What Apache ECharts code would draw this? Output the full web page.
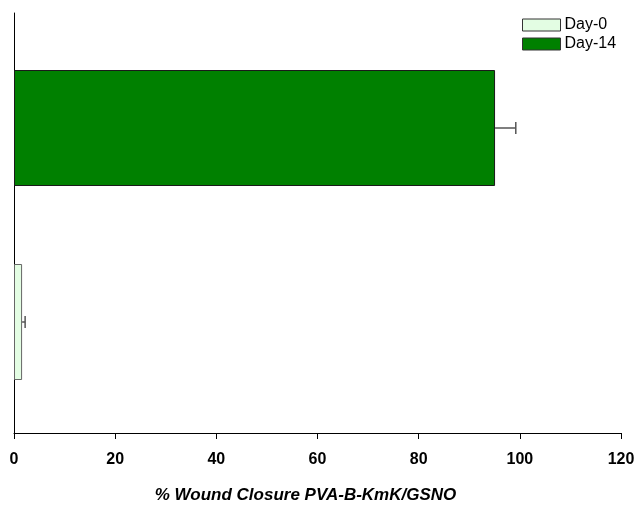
<!DOCTYPE html>
<html>
<head>
<meta charset="utf-8">
<script src="https://cdn.jsdelivr.net/npm/echarts@6/dist/echarts.min.js"></script>
<style>
  html, body { margin: 0; padding: 0; background: #fff; }
  #chart { width: 638px; height: 509px; }
</style>
</head>
<body>
<div id="chart"></div>
<script>
// data
const groups = ['Day-0', 'Day-14'];
const closure = [1.6, 95.1];
const closureErr = [0.6, 4.1];
const xTicks = [0, 20, 40, 60, 80, 100, 120];
const barColors = ['#e3fde3', '#008000'];
const barBorders = ['#666666', '#1a1a1a'];

const chart = echarts.init(document.getElementById('chart'));

const font = 'Arial, "Liberation Sans", sans-serif';

// one series per group so the legend shows both
const barSeries = groups.map((g, i) => ({
  name: g,
  type: 'bar',
  xAxisIndex: 1,
  yAxisIndex: 1,
  barWidth: 116,
  barGap: '-100%',
  data: groups.map((_, j) => (j === i ? closure[j] : null)),
  itemStyle: { color: barColors[i], borderColor: barBorders[i], borderWidth: 1 },
  silent: true
}));

const errSeries = {
  type: 'custom',
  xAxisIndex: 1,
  yAxisIndex: 1,
  data: groups.map((g, i) => [closure[i], i, closureErr[i]]),
  renderItem: function (params, api) {
    const v = api.value(0);
    const idx = api.value(1);
    const e = api.value(2);
    const p0 = api.coord([v, idx]);
    const p1 = api.coord([v + e, idx]);
    const cap = 6;
    return {
      type: 'group',
      children: [
        { type: 'line', shape: { x1: p0[0], y1: p0[1], x2: p1[0], y2: p1[1] },
          style: { stroke: '#555', lineWidth: 1.5 } },
        { type: 'line', shape: { x1: p1[0], y1: p1[1] - cap, x2: p1[0], y2: p1[1] + cap },
          style: { stroke: '#555', lineWidth: 1.5 } }
      ]
    };
  },
  silent: true,
  z: 5
};

chart.setOption({
  animation: false,
  legend: {
    orient: 'vertical',
    left: 517,
    top: 12,
    icon: 'rect',
    itemWidth: 38,
    itemHeight: 12,
    itemGap: 3,
    data: groups.map((g, i) => ({
      name: g,
      itemStyle: { color: barColors[i], borderColor: '#333', borderWidth: 1 }
    })),
    textStyle: { fontFamily: font, fontSize: 16, color: '#000', padding: [0, 0, 0, -1] },
    selectedMode: false
  },
  grid: [
    { left: 14, right: 17, top: 13, bottom: 72 },
    { left: 14, right: 17, top: 31, bottom: 90 }
  ],
  xAxis: [
    {
      gridIndex: 0,
      type: 'value',
      min: xTicks[0],
      max: xTicks[xTicks.length - 1],
      interval: 20,
      axisLine: { show: true, onZero: false, lineStyle: { color: '#000', width: 1 } },
      axisTick: { show: true, length: 6, lineStyle: { color: '#000' } },
      axisLabel: { margin: 19, fontFamily: font, fontSize: 16, fontWeight: 'bold', color: '#000' },
      splitLine: { show: false },
      name: '% Wound Closure PVA-B-KmK/GSNO',
      nameLocation: 'middle',
      nameGap: 54,
      nameTextStyle: {
        fontFamily: font, fontSize: 17, fontWeight: 'bold', fontStyle: 'italic', color: '#000',
        padding: [0, 24, 0, 0]
      }
    },
    {
      gridIndex: 1,
      type: 'value',
      min: xTicks[0],
      max: xTicks[xTicks.length - 1],
      show: false
    }
  ],
  yAxis: [
    {
      gridIndex: 0,
      type: 'value',
      min: 0,
      max: 1,
      axisLine: { show: true, onZero: false, lineStyle: { color: '#000', width: 1 } },
      axisTick: { show: false },
      axisLabel: { show: false },
      splitLine: { show: false }
    },
    {
      gridIndex: 1,
      type: 'category',
      data: groups,
      show: false
    }
  ],
  series: [...barSeries, errSeries]
});
</script>
</body>
</html>
